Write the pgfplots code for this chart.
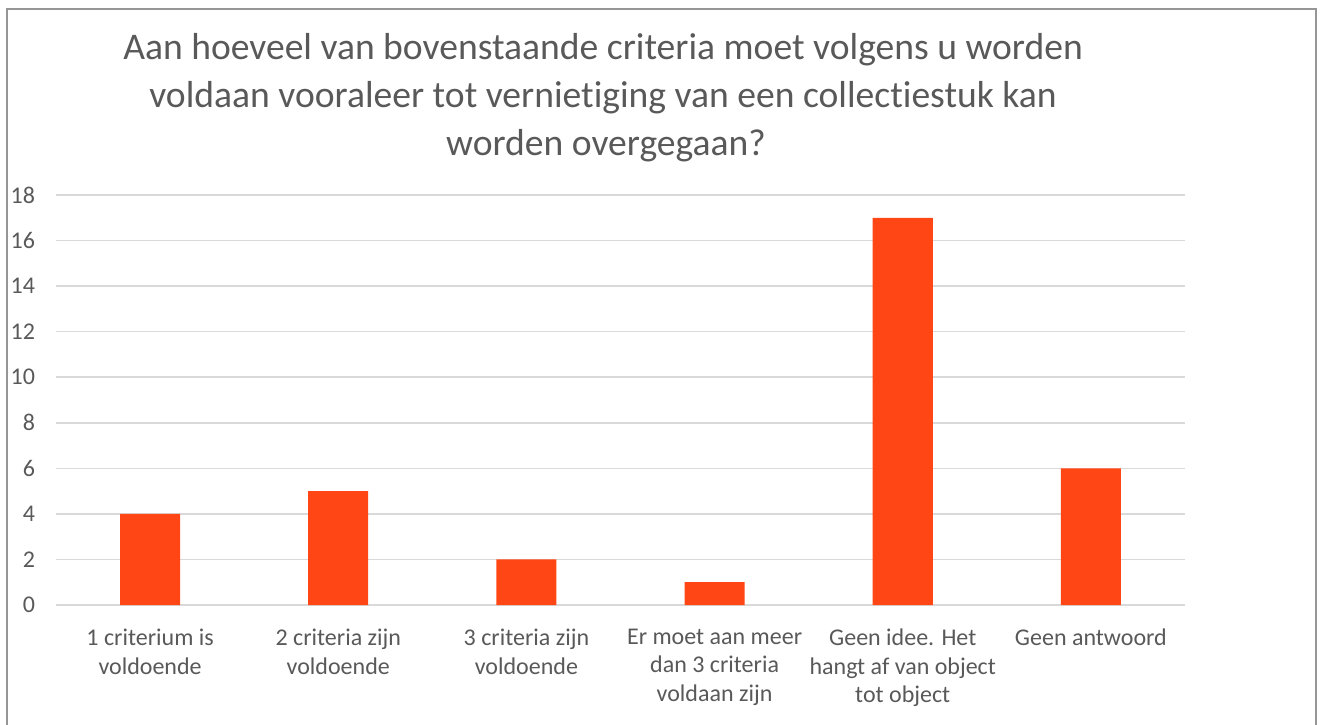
\documentclass[border=0pt]{standalone}
\usepackage{fontspec}
\setmainfont{Carlito}[Ligatures={NoCommon}]
\usepackage{pgfplots}
\pgfplotsset{compat=1.18}
\definecolor{barRed}{RGB}{255,70,20}
\definecolor{txtGray}{RGB}{89,89,89}
\definecolor{gridGray}{RGB}{217,217,217}
\definecolor{frameGray}{RGB}{150,150,150}

\begin{document}
\begin{tikzpicture}
% 1 px of the reference = 0.5bp
\useasboundingbox (-28bp,-60bp) rectangle (632bp,302.5bp);

\begin{axis}[
  scale only axis,
  width=564.5bp, height=205bp,
  ybar, bar width=30bp,
  xmin=-0.5, xmax=5.5,
  ymin=0, ymax=18,
  xtick=data,
  xticklabels={{1 criterium is\\voldoende},{2 criteria zijn\\voldoende},{3 criteria zijn\\voldoende},{Er moet aan meer\\dan 3 criteria\\voldaan zijn},{Geen idee. Het\\hangt af van object\\tot object},{Geen antwoord}},
  ytick={0,2,...,18},
  major tick length=0pt,
  axis line style={draw=none},
  ymajorgrids, grid style={gridGray, line width=0.75bp},
  tick label style={font=\fontsize{12bp}{14.25bp}\selectfont, text=txtGray},
  xticklabel style={align=center, yshift=-8.5bp},
  yticklabel style={xshift=-7bp},
  /pgf/number format/assume math mode=true,
]
\addplot[fill=barRed, draw=none]
  coordinates {(0,4) (1,5) (2,2) (3,1) (4,17) (5,6)};
\end{axis}

\begin{scope}[every node/.style={anchor=base, text=txtGray, font=\fontsize{18.8bp}{22bp}\selectfont}]
\node at (273.5bp,272.5bp) {Aan hoeveel van bovenstaande criteria moet volgens u worden};
\node at (273.5bp,248.5bp) {voldaan vooraleer tot vernietiging van een collectiestuk kan};
\node at (275bp,224.5bp) {worden overgegaan?};
\end{scope}

\draw[frameGray, line width=0.75bp] (-24.5bp,-61bp) -- (-24.5bp,298bp) -- (630bp,298bp) -- (630bp,-61bp);
\end{tikzpicture}
\end{document}
